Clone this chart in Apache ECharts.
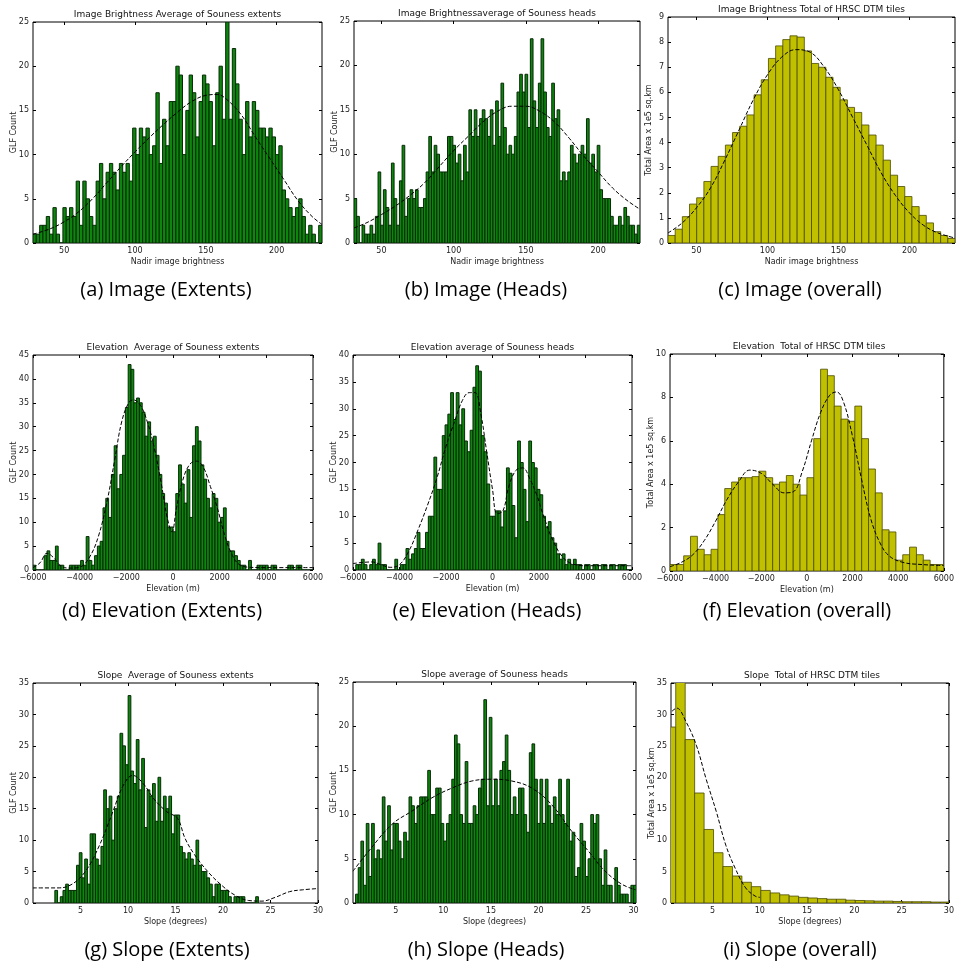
<!DOCTYPE html>
<html>
<head>
<meta charset="utf-8">
<script src="https://cdn.jsdelivr.net/npm/echarts@6/dist/echarts.min.js"></script>
<style>
html, body { margin: 0; padding: 0; background: #fff; }
#chart { width: 957px; height: 971px; }
</style>
</head>
<body>
<div id="chart"></div>
<script>
// tick labels
const brightTicks = [50, 100, 150, 200]
const elevTicks = [-6000, -4000, -2000, 0, 2000, 4000, 6000]
const slopeTicks = [5, 10, 15, 20, 25, 30]

// (a) image brightness, extents
const aBinStart = 28, aBinWidth = 2.345
const aCounts = [1,1,2,2,3,1,4,1,0,4, 3,4,3,7,2,7,5,3,2,7, 9,5,8,9,8,6,9,8,9,7, 13,10,13,12,13,10,11,17,9,14,
  11,16,16,20,19,10,15,19,17,12, 16,19,18,16,11,17,20,14,25,14, 22,18,14,10,16,12,16,15,13,13, 12,13,12,10,11,6,5,4,3,4, 5,3,1,2,1,0,2]
const aFit = [[28,1.0],[40,1.6],[50,2.4],[60,3.5],[70,5.0],[80,6.8],[90,8.6],[100,10.3],[110,11.9],[120,13.4],[130,14.8],
  [140,16.0],[150,16.7],[158,16.8],[165,16.2],[175,14.5],[185,12.0],[195,9.6],[205,7.2],[215,4.8],[225,3.0],[232,2.1]]

// (b) image brightness, heads
const bBinStart = 31, bBinWidth = 1.85
const bCounts = [5,3,0,2,1,1,2,1,3,8, 2,6,4,2,9,5,2,7,11,3, 5,6,5,6,4,4,5,8,12,8, 11,10,8,8,8,12,12,11,9,10,
  7,11,8,15,12,15,12,14,15,14, 12,15,11,16,12,18,13,10,11,10, 12,17,19,17,19,13,23,16,13,18, 23,17,13,12,18,14,15,7,8,7,
  8,11,10,9,10,11,10,14,9,10, 8,11,6,5,5,5,3,2,2,3, 2,4,3,2,2,1,2]
const bFit = [[31,1.7],[40,2.3],[50,3.2],[60,4.2],[70,5.4],[80,6.8],[90,8.6],[100,10.4],[110,12.0],[120,13.6],[130,14.8],
  [140,15.4],[150,15.4],[160,14.8],[170,13.6],[180,11.8],[190,9.8],[200,8.0],[210,6.2],[220,4.8],[229,3.8]]

// (c) image brightness, all tiles
const cBinStart = 30, cBinWidth = 5.05
const cCounts = [0.3,0.55,1.05,1.55,1.8,2.45,3.05,3.45,3.9,4.4, 4.65,5.1,5.9,6.5,7.35,7.85,8.1,8.25,8.2,7.65,
  7.15,7.0,6.6,6.2,5.7,5.4,5.2,4.7,4.3,3.9, 3.3,2.7,2.25,1.85,1.45,1.1,0.8,0.45,0.3,0.18]
const cFit = [[30,0.4],[40,0.8],[50,1.4],[60,2.2],[70,3.3],[80,4.5],[90,5.7],[100,6.7],[110,7.4],[120,7.7],[130,7.6],
  [140,7.0],[150,6.1],[160,5.0],[170,3.9],[180,2.8],[190,1.9],[200,1.2],[210,0.7],[220,0.4],[232,0.2]]

// (d) elevation, extents
const dBinStart = -6000, dBinWidth = 120
const dCounts = [1,0,0,0,3,4,2,2,5,1, 1,0,0,1,1,1,1,2,1,7, 2,1,3,5,6,13,15,11,20,26, 17,20,24,34,43,42,35,36,35,33,
  28,31,27,28,24,20,16,14,9,9, 8,16,22,18,14,21,11,26,30,27, 22,19,15,13,16,15,10,11,13,6, 4,4,3,2,1,1,0,2,0,0,
  1,1,1,1,0,1,1,0,0,0, 0,1,1,0,1,1,0,0,0,0]
const dFit = [[-6000,0.5],[-5700,1.5],[-5400,3.5],[-5100,2.5],[-4800,0.8],[-4400,0.4],[-4000,0.6],[-3600,2.5],[-3200,7],
  [-2800,15],[-2500,23],[-2200,31],[-1900,35],[-1700,35.6],[-1400,34.5],[-1100,31],[-800,25.5],[-500,18],[-250,11],[-50,8],
  [150,13],[400,18.5],[700,22],[1000,22.8],[1300,21.5],[1600,17.5],[1900,13],[2200,7.5],[2500,3.5],[2800,1.3],[3200,0.6],
  [4000,0.5],[6000,0.5]]

// (e) elevation, heads
const eBinStart = -6000, eBinWidth = 120
const eCounts = [0,1,1,2,1,0,1,2,1,5, 1,1,0,0,0,2,0,1,1,4, 2,3,4,7,4,4,7,10,10,21, 15,15,25,27,29,33,28,33,27,30,
  24,22,26,34,38,37,25,22,16,10, 10,11,11,8,11,19,18,12,6,24, 20,15,9,24,20,19,15,14,10,8, 9,6,5,3,2,3,1,2,1,2,
  1,1,0,1,1,0,1,1,0,1, 1,0,1,1,0,1,1,1,0,0]
const eFit = [[-6000,1.2],[-5200,1.5],[-4800,1],[-4400,0.5],[-4000,1],[-3600,3.5],[-3200,7.5],[-2800,12],[-2400,17],
  [-2000,23],[-1600,28],[-1300,31.5],[-1000,33],[-750,33],[-500,29],[-250,22],[0,15],[200,10.5],[450,11],[700,15.5],
  [1000,18.5],[1300,19],[1600,17],[1900,14],[2200,10],[2600,5.5],[3000,2.5],[3400,1.2],[4000,0.8],[6000,0.8]]

// (f) elevation, all tiles
const fBinStart = -6000, fBinWidth = 300
const fCounts = [0.3,0.3,0.7,1.6,1.0,0.75,1.0,2.6,3.8,4.1, 4.3,4.3,4.35,4.6,4.3,4.0,4.1,4.4,4.0,3.5,
  4.3,6.1,9.3,9.0,7.6,7.0,6.9,7.6,6.1,4.7, 3.6,1.9,1.8,0.5,0.75,1.1,0.75,0.5,0.3,0.3]
const fFit = [[-6000,0.2],[-5500,0.4],[-5000,0.75],[-4500,1.4],[-4000,2.3],[-3500,3.3],[-3000,4.1],[-2500,4.65],
  [-2000,4.5],[-1500,4.0],[-1000,3.6],[-600,3.65],[-200,4.6],[200,6.0],[600,7.3],[1000,8.1],[1300,8.25],[1600,7.8],
  [2000,6.2],[2400,4.2],[2800,2.4],[3200,1.3],[3600,0.7],[4200,0.4],[5000,0.3],[6000,0.25]]

// (g) slope, extents
const gBinStart = 2.3, gBinWidth = 0.2857
const gCounts = [2,0,1,2,3,2,2,2,6,8, 4,7,3,11,11,7,6,9,18,15, 17,10,15,17,27,25,22,33,21,19, 26,18,23,12,18,17,19,13,20,13,
  17,15,17,11,14,14,9,8,7,8, 7,6,10,6,5,5,4,3,1,3, 3,2,2,2,1,0,1,1,1,1, 0,0,0,0,1]
const gFit = [[0,2.4],[2.5,2.4],[4,2.9],[5.5,5],[7,9.2],[8.4,14.5],[9.5,18.7],[10.5,20.3],[11.6,19],[12.7,16.6],
  [14.1,14.5],[15.2,13.5],[16,10.3],[17,7.7],[18.4,5],[19.8,2.9],[21.2,1.3],[22.7,0.4],[24.1,0.3],[25.5,0.9],
  [27,1.8],[28.4,2.1],[30,2.3]]

// (h) slope, heads
const hBinStart = 0.77, hBinWidth = 0.281
const hCounts = [1,4,7,2,9,3,9,5,6,5, 12,7,11,6,9,9,7,5,8,7, 12,11,9,11,12,12,12,15,10,10, 13,13,9,7,9,10,14,19,18,10,
  9,16,9,9,11,10,13,14,23,11, 21,11,14,11,15,16,19,15,10,12, 10,13,13,10,8,17,18,14,9,14, 9,14,11,9,12,10,14,10,9,14,
  7,8,3,4,9,7,3,5,10,9, 10,5,2,6,2,2,0,4,2,1, 1,1,0,2,2]
const hFit = [[0.5,3.6],[2.1,5.8],[4.6,8.9],[6.7,10.4],[8.8,11.9],[10.9,13],[13,13.8],[15.1,14],[17.2,13.8],[19.3,13],
  [21.4,11.1],[23.5,8.1],[25.3,5.8],[27,3.6],[28.8,2.1],[30.2,1.5]]

// (i) slope, all tiles
const iBinStart = 0.1, iBinWidth = 1.0
const iCounts = [28,36,26,17.5,11.7,8,5.8,4.3,3.3,2.6, 2.0,1.6,1.3,1.1,0.9,0.8,0.7,0.6,0.6,0.45,
  0.4,0.35,0.3,0.3,0.25,0.2,0.2,0.2,0.15,0.15]
const iFit = [[0.7,30.5],[1.2,31],[2.2,28.8],[3.3,25],[4.3,19.8],[5.4,14.5],[6.4,9.2],[7.4,5.5],[8.5,2.4],[9.5,1.1],[10,0.9]]

const font = 'DejaVu Sans'
const green = { fill: '#0c860c', edge: '#072a07', lw: 1 }
const olive = { fill: '#c0c000', edge: '#4a4a00', lw: 0.8 }

const panels = [
  { title: 'Image Brightness Average of Souness extents', caption: '(a) Image (Extents)', capX: 166, capY: 290,
    xName: 'Nadir image brightness', yName: 'GLF Count', start: aBinStart, width: aBinWidth, counts: aCounts, fit: aFit,
    xMin: 28, xMax: 232, xTicks: brightTicks, yMax: 25, yStep: 5, col: green, box: [33, 22, 289, 221] },
  { title: 'Image Brightnessaverage of Souness heads', caption: '(b) Image (Heads)', capX: 486, capY: 290,
    xName: 'Nadir image brightness', yName: 'GLF Count', start: bBinStart, width: bBinWidth, counts: bCounts, fit: bFit,
    xMin: 31, xMax: 229, xTicks: brightTicks, yMax: 25, yStep: 5, col: green, box: [354, 21, 286, 222] },
  { title: 'Image Brightness Total of HRSC DTM tiles', caption: '(c) Image (overall)', capX: 800, capY: 290,
    xName: 'Nadir image brightness', yName: 'Total Area x 1e5 sq.km', start: cBinStart, width: cBinWidth, counts: cCounts, fit: cFit,
    xMin: 30, xMax: 232, xTicks: brightTicks, yMax: 9, yStep: 1, col: olive, box: [668, 17, 287, 226] },
  { title: 'Elevation  Average of Souness extents', caption: '(d) Elevation (Extents)', capX: 162, capY: 611,
    xName: 'Elevation (m)', yName: 'GLF Count', start: dBinStart, width: dBinWidth, counts: dCounts, fit: dFit,
    xMin: -6000, xMax: 6000, xTicks: elevTicks, yMax: 45, yStep: 5, col: green, box: [33, 355, 280, 215] },
  { title: 'Elevation average of Souness heads', caption: '(e) Elevation (Heads)', capX: 487, capY: 611,
    xName: 'Elevation (m)', yName: 'GLF Count', start: eBinStart, width: eBinWidth, counts: eCounts, fit: eFit,
    xMin: -6000, xMax: 6000, xTicks: elevTicks, yMax: 40, yStep: 5, col: green, box: [353, 355, 279, 215] },
  { title: 'Elevation  Total of HRSC DTM tiles', caption: '(f) Elevation (overall)', capX: 797, capY: 611,
    xName: 'Elevation (m)', yName: 'Total Area x 1e5 sq.km', start: fBinStart, width: fBinWidth, counts: fCounts, fit: fFit,
    xMin: -6000, xMax: 6000, xTicks: elevTicks, yMax: 10, yStep: 2, col: olive, box: [670, 354, 278, 217] },
  { title: 'Slope  Average of Souness extents', caption: '(g) Slope (Extents)', capX: 167, capY: 950,
    xName: 'Slope (degrees)', yName: 'GLF Count', start: gBinStart, width: gBinWidth, counts: gCounts, fit: gFit,
    xMin: 0, xMax: 30, xTicks: slopeTicks, yMax: 35, yStep: 5, col: green, box: [33, 683, 285, 220] },
  { title: 'Slope average of Souness heads', caption: '(h) Slope (Heads)', capX: 486, capY: 950,
    xName: 'Slope (degrees)', yName: 'GLF Count', start: hBinStart, width: hBinWidth, counts: hCounts, fit: hFit,
    xMin: 0.5, xMax: 30.25, xTicks: slopeTicks, yMax: 25, yStep: 5, col: green, box: [353, 682, 283, 221] },
  { title: 'Slope  Total of HRSC DTM tiles', caption: '(i) Slope (overall)', capX: 800, capY: 950,
    xName: 'Slope (degrees)', yName: 'Total Area x 1e5 sq.km', start: iBinStart, width: iBinWidth, counts: iCounts, fit: iFit,
    xMin: 0.6, xMax: 30, xTicks: slopeTicks, yMax: 35, yStep: 5, col: olive, box: [671, 683, 282, 220] }
]

const fmt = v => String(v).replace('-', '\u2212')
const tickStyle = { inside: true, length: 3, lineStyle: { color: '#000', width: 1 } }
const smallText = { fontFamily: font, fontSize: 8, color: '#222' }
const hiddenLine = { show: false, onZero: false }

const option = { animation: false, title: [], grid: [], xAxis: [], yAxis: [], series: [], graphic: [] }

panels.forEach((p, i) => {
  const [l, t, w, h] = p.box
  option.grid.push({ left: l, top: t, width: w, height: h, show: true, borderColor: '#000', borderWidth: 1, backgroundColor: '#fff' })
  option.title.push({ text: p.title, left: l + w / 2, top: t - 12, padding: 0, textAlign: 'center',
    textStyle: { fontFamily: font, fontSize: 9, fontWeight: 'normal', color: '#111' } })

  const xBase = { type: 'value', gridIndex: i, min: p.xMin, max: p.xMax, splitLine: { show: false }, axisLine: hiddenLine }
  option.xAxis.push({ ...xBase, position: 'bottom', name: p.xName, nameLocation: 'middle', nameGap: 15, nameMoveOverlap: false,
    nameTextStyle: smallText, axisTick: { ...tickStyle, customValues: p.xTicks },
    axisLabel: { ...smallText, customValues: p.xTicks, margin: 4, formatter: fmt } })
  option.xAxis.push({ ...xBase, position: 'top', axisTick: { ...tickStyle, customValues: p.xTicks }, axisLabel: { show: false } })

  const yBase = { type: 'value', gridIndex: i, min: 0, max: p.yMax, interval: p.yStep, splitLine: { show: false }, axisLine: hiddenLine }
  option.yAxis.push({ ...yBase, position: 'left', name: p.yName, nameLocation: 'middle', nameGap: 15, nameMoveOverlap: false,
    nameTextStyle: smallText, axisTick: tickStyle, axisLabel: { ...smallText, margin: 4 } })
  option.yAxis.push({ ...yBase, position: 'right', axisTick: tickStyle, axisLabel: { show: false } })

  option.series.push({
    type: 'custom', xAxisIndex: 2 * i, yAxisIndex: 2 * i, clip: true,
    encode: { x: [0, 1], y: 2 },
    data: p.counts.map((c, k) => [p.start + k * p.width, p.start + (k + 1) * p.width, c]),
    renderItem: (params, api) => {
      const tl = api.coord([api.value(0), api.value(2)])
      const br = api.coord([api.value(1), 0])
      return { type: 'rect', shape: { x: tl[0], y: tl[1], width: br[0] - tl[0], height: br[1] - tl[1] },
        style: { fill: p.col.fill, stroke: p.col.edge, lineWidth: p.col.lw } }
    }
  })
  option.series.push({
    type: 'line', xAxisIndex: 2 * i, yAxisIndex: 2 * i, data: p.fit, smooth: 0.4, showSymbol: false, clip: true,
    lineStyle: { color: '#000', width: 1, type: 'dashed' }, z: 5
  })

  option.graphic.push({ type: 'text', x: p.capX, y: p.capY,
    style: { text: p.caption, fill: '#000', font: '20px "Open Sans"', textAlign: 'center', textVerticalAlign: 'middle' } })
})

const chart = echarts.init(document.getElementById('chart'))
chart.setOption(option)
</script>
</body>
</html>
